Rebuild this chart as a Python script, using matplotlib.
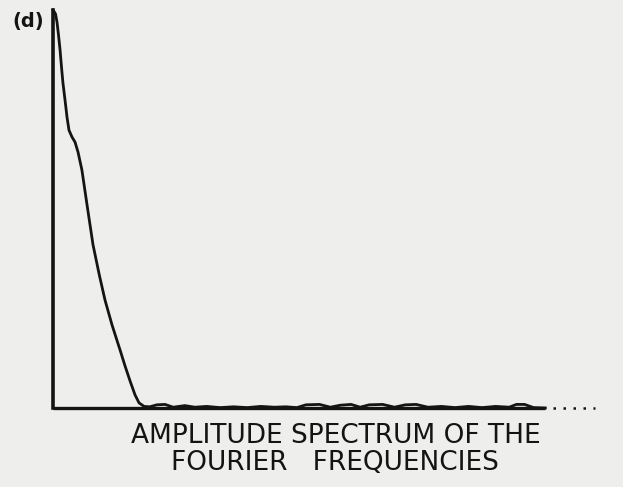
import matplotlib
matplotlib.use("Agg")
import matplotlib.pyplot as plt

# Fourier frequency index and amplitude (peak normalised to 1)
freq = [0.0, 0.15, 0.28, 0.44, 0.61, 0.78, 0.94, 1.1, 1.33, 1.55, 1.77, 2.1, 2.44, 2.77,
        3.2, 3.77, 4.1, 4.43, 5.1, 5.76, 6.53, 7.42, 7.97, 8.53, 9.08, 9.52, 10.08,
        10.7, 11.5, 12.4, 13.3, 14.6, 15.7, 17.0, 18.5, 20.0, 21.5, 23.0, 24.5,
        25.8, 27.0, 28.0, 29.5, 30.7, 31.8, 33.0, 34.0, 35.0, 36.5, 37.8, 39.0,
        40.2, 41.5, 43.0, 44.5, 46.0, 47.5, 49.0, 50.5, 51.3, 52.2, 53.2, 54.5]
amp = [1.0, 0.995, 0.99, 0.97, 0.937, 0.90, 0.857, 0.817, 0.774, 0.731, 0.698, 0.681, 0.668, 0.643,
       0.598, 0.51, 0.46, 0.41, 0.337, 0.271, 0.209, 0.146, 0.106, 0.068, 0.033, 0.013, 0.004,
       0.003, 0.008, 0.009, 0.002, 0.006, 0.002, 0.004, 0.001, 0.003, 0.001, 0.004, 0.002,
       0.003, 0.001, 0.008, 0.009, 0.002, 0.007, 0.009, 0.002, 0.008, 0.009, 0.002, 0.008,
       0.009, 0.002, 0.004, 0.001, 0.004, 0.001, 0.004, 0.002, 0.009, 0.009, 0.001, 0.0]

panel_label = "(d)"
xlabel_lines = ["AMPLITUDE SPECTRUM OF THE", "FOURIER   FREQUENCIES"]

bg = "#eeeeec"
ink = "#141414"

W, H = 623, 487
fig = plt.figure(figsize=(W / 100, H / 100), dpi=100, facecolor=bg)
ax = fig.add_axes([53 / W, (H - 408) / H, (595 - 53) / W, (408 - 10) / H])
ax.set_facecolor(bg)
ax.set_xlim(0, 60)
ax.set_ylim(0, 1.0)

ax.plot(freq, amp, color=ink, lw=2.0, solid_joinstyle="round", clip_on=False)

for s in ["top", "right", "bottom"]:
    ax.spines[s].set_visible(False)
ax.spines["left"].set_linewidth(2.6)
ax.spines["left"].set_color(ink)
ax.set_xticks([])
ax.set_yticks([])

# baseline: solid then dotted continuation
ax.plot([0, 54.5], [0, 0], color=ink, lw=2.4, clip_on=False, solid_capstyle="butt")
ax.plot([55.3, 60], [0, 0], color=ink, lw=1.8, ls=(0, (1, 3)), clip_on=False)

fig.text(12 / W, 1 - 21 / H, panel_label, fontsize=14, fontweight="bold",
         color=ink, va="center", ha="left")
fig.text(336 / W, 1 - 436 / H, xlabel_lines[0], fontsize=19, color=ink,
         ha="center", va="center")
fig.text(335 / W, 1 - 463 / H, xlabel_lines[1], fontsize=19, color=ink,
         ha="center", va="center")

fig.savefig("out.png", dpi=100, facecolor=bg)
